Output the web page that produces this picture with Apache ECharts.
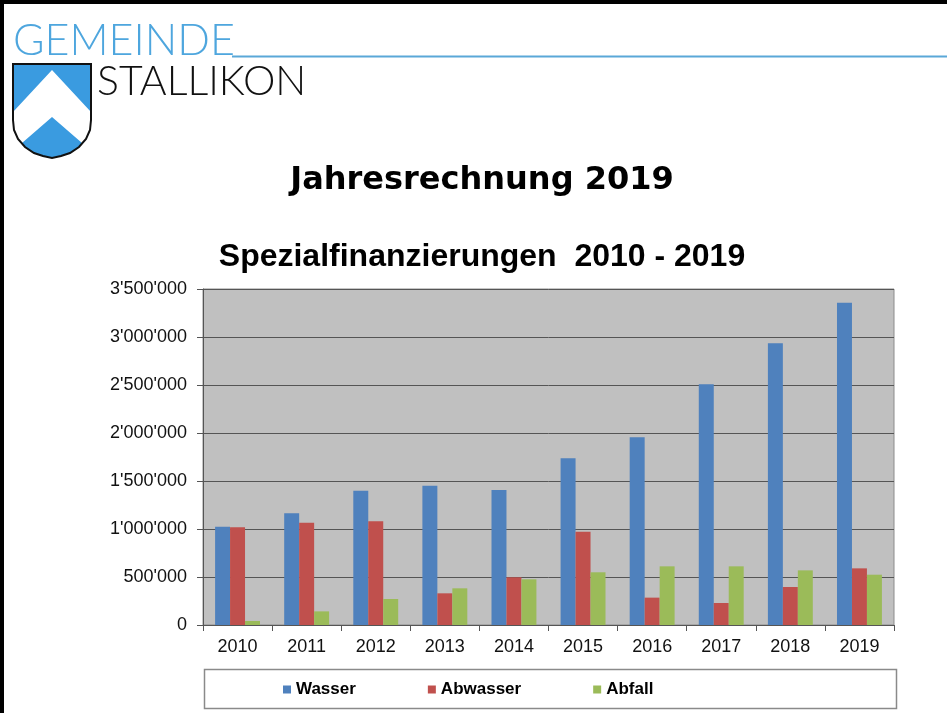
<!DOCTYPE html>
<html>
<head>
<meta charset="utf-8">
<script src="https://cdn.jsdelivr.net/npm/echarts@6/dist/echarts.min.js"></script>
<style>
  html, body { margin: 0; padding: 0; background: #fff; }
  #chart { width: 947px; height: 713px; }
</style>
</head>
<body>
<div id="chart"></div>
<script>
var years = ['2010', '2011', '2012', '2013', '2014', '2015', '2016', '2017', '2018', '2019']
var wasser = [1024000, 1163000, 1399000, 1451000, 1406000, 1736000, 1955000, 2507000, 2934000, 3358000]
var abwasser = [1017000, 1066000, 1080000, 330000, 497000, 972000, 285000, 229000, 396000, 590000]
var abfall = [42000, 142000, 271000, 382000, 476000, 549000, 611000, 611000, 569000, 524000]
var seriesNames = ['Wasser', 'Abwasser', 'Abfall']
var colors = ['#4F81BD', '#C0504D', '#9BBB59']

// 3500000 -> 3'500'000
function swissFormat(v) {
  return String(v).replace(/\B(?=(\d{3})+(?!\d))/g, "'")
}

// coat of arms outline
var shield = [[13, 64], [91, 64], [91, 120], [90, 130], [86, 139], [79, 147], [70, 153], [61, 156], [52, 158],
  [43, 156], [34, 153], [25, 147], [18, 139], [14, 130], [13, 120]]
var chevron = [[52, 70], [91, 112], [91, 120], [90, 130], [86, 139], [82, 143], [52, 117],
  [22, 143], [18, 139], [14, 130], [13, 120], [13, 112]]

var chart = echarts.init(document.getElementById('chart'))

chart.setOption({
  animation: false,
  color: colors,
  title: [{
    text: 'Jahresrechnung 2019',
    left: 477,
    top: 160,
    textAlign: 'center',
    textStyle: { fontFamily: 'DejaVu Sans', fontWeight: 'bold', fontSize: 32, color: '#000' }
  }, {
    text: 'Spezialfinanzierungen  2010 - 2019',
    left: 477,
    top: 236,
    textAlign: 'center',
    textStyle: { fontFamily: 'Liberation Sans', fontWeight: 'bold', fontSize: 32, color: '#000' }
  }],
  graphic: [
    // page frame (top and left edges)
    { type: 'rect', shape: { x: 0, y: 0, width: 947, height: 4 }, style: { fill: '#000' } },
    { type: 'rect', shape: { x: 0, y: 0, width: 4, height: 713 }, style: { fill: '#000' } },
    // header
    { type: 'line', shape: { x1: 232, y1: 56.5, x2: 947, y2: 56.5 }, style: { stroke: '#5aa8d8', lineWidth: 2 } },
    {
      type: 'text', x: 13, y: 20,
      style: { text: 'GEMEINDE', font: '300 43px Lato', fill: '#4ea6de' }
    },
    {
      type: 'text', x: 97, y: 61,
      style: { text: 'STALLIKON', font: '300 41px Lato', fill: '#111' }
    },
    { type: 'polygon', shape: { points: shield }, style: { fill: '#3a9be0' } },
    { type: 'polygon', shape: { points: chevron }, style: { fill: '#fff' } },
    { type: 'polygon', shape: { points: shield }, style: { fill: 'none', stroke: '#111', lineWidth: 2 } },
    // legend frame
    {
      type: 'rect',
      shape: { x: 204.5, y: 669.5, width: 692, height: 39 },
      style: { fill: '#fff', stroke: '#8a8a8a', lineWidth: 1.5 }
    }
  ],
  legend: {
    data: seriesNames,
    left: 283,
    top: 681,
    padding: 0,
    itemGap: 72,
    itemWidth: 8,
    itemHeight: 8,
    icon: 'rect',
    textStyle: { fontFamily: 'Liberation Sans', fontWeight: 'bold', fontSize: 17, color: '#000' }
  },
  grid: {
    left: 203,
    right: 53,
    top: 289,
    bottom: 88,
    show: true,
    backgroundColor: '#c0c0c0',
    borderColor: '#8c8c8c',
    borderWidth: 1
  },
  xAxis: {
    type: 'category',
    data: years,
    axisLine: { lineStyle: { color: '#555', width: 1 } },
    axisTick: { show: true, length: 6, lineStyle: { color: '#555' } },
    axisLabel: { margin: 13, fontFamily: 'Liberation Sans', fontSize: 18, color: '#111' }
  },
  yAxis: {
    type: 'value',
    min: 0,
    max: 3500000,
    interval: 500000,
    axisLine: { show: true, lineStyle: { color: '#555', width: 1 } },
    axisTick: { show: true, length: 6, lineStyle: { color: '#555' } },
    axisLabel: {
      margin: 16,
      fontFamily: 'Liberation Sans',
      fontSize: 18,
      color: '#111',
      formatter: swissFormat
    },
    splitLine: { lineStyle: { color: '#555', width: 1 } }
  },
  series: [{
    name: seriesNames[0],
    type: 'bar',
    data: wasser,
    barGap: '0%',
    barCategoryGap: '35%'
  }, {
    name: seriesNames[1],
    type: 'bar',
    data: abwasser
  }, {
    name: seriesNames[2],
    type: 'bar',
    data: abfall
  }]
})
</script>
</body>
</html>
